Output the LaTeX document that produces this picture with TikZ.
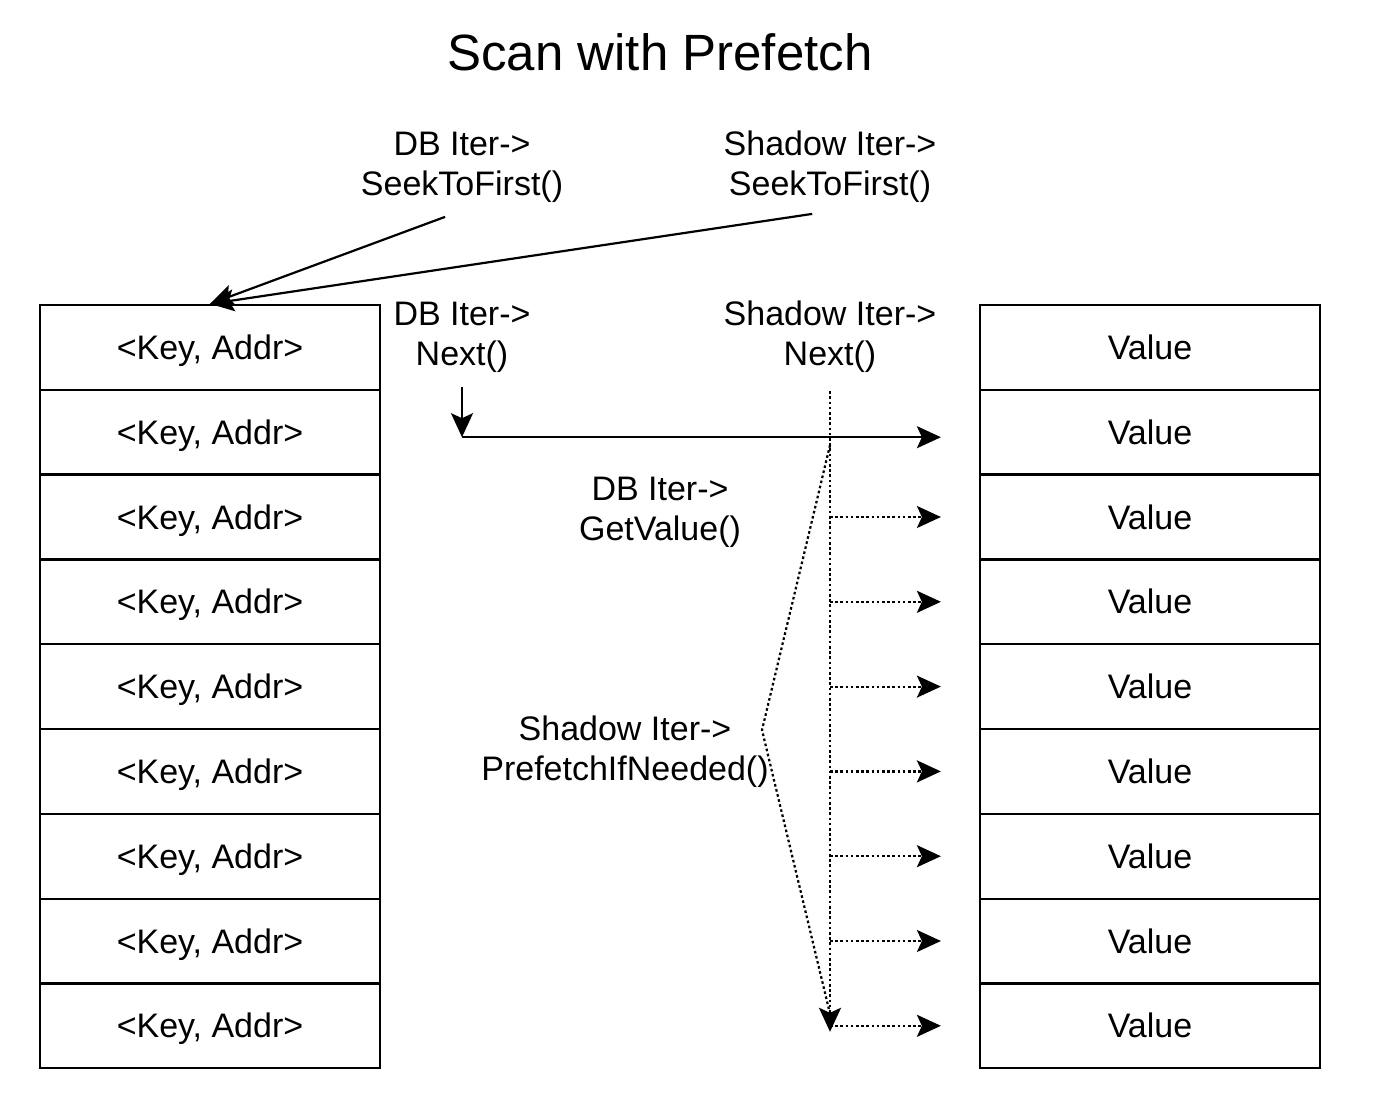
\documentclass[tikz,border=0pt]{standalone}
\usepackage{fontspec}
\setmainfont{Liberation Sans}
\usetikzlibrary{arrows.meta, positioning, calc}

\tikzset{
  cell/.style={draw, line width=1.1pt, minimum width=170pt, minimum height=42.4pt, inner sep=0pt, text height=12pt, text depth=0pt, font=\fontsize{17}{20}\selectfont},
  lbl/.style={align=center, inner sep=4pt, font=\fontsize{17}{20}\selectfont},
  arr/.style={line width=1.1pt, -{Stealth[length=12pt,width=11pt,inset=2.5pt]}},
  dotline/.style={line width=1.1pt, dash pattern=on 1.3pt off 1.3pt},
  dotarr/.style={dotline, -{Stealth[length=12pt,width=11pt,inset=2.5pt,sep=0pt]}},
}

\begin{document}
\begin{tikzpicture}[x=0.5pt, y=-0.5pt]
  \useasboundingbox (0,0) rectangle (1376,1112);
  % Title
  \node[font=\fontsize{25.5}{30}\selectfont] (title) at (660,52) {Scan with Prefetch};

  % --- Key column and value column ---
  \foreach \i in {1,...,9} {
    \node[cell] (k\i) at (210,{305+84.8*(\i-0.5)}) {<Key, Addr>};
    \node[cell] (v\i) at (1150,{305+84.8*(\i-0.5)}) {Value};
  }

  % --- Labels ---
  \node[lbl] (dbseek) at (462,167) {DB Iter->\\SeekToFirst()};
  \node[lbl] (shseek) at (830,167) {Shadow Iter->\\SeekToFirst()};
  \node[lbl] (dbnext) at (462,337) {DB Iter->\\Next()};
  \node[lbl] (shnext) at (830,337) {Shadow Iter->\\Next()};
  \node[lbl] (dbget) at (660,512) {DB Iter->\\GetValue()};
  \node[lbl] (shpre) at (625,752) {Shadow Iter->\\PrefetchIfNeeded()};

  % SeekToFirst
  \draw[arr, shorten <=9pt] (dbseek.south) -- (k1.north);
  \draw[arr, shorten <=9pt] (shseek.south) -- (k1.north);

  % DB Next + GetValue
  \coordinate (dbhit) at ($(dbnext.south |- v2.west)+(0,5)$);
  \draw[arr, shorten <=3pt] (dbnext.south) -- (dbhit);
  \draw[arr] (dbhit) -- ([xshift=-19pt,yshift=-2.5pt]v2.west);

  % Shadow Next + prefetch
  \draw[dotline, shorten <=5pt] (shnext.south) -- (shnext.south |- v9.west);
  \foreach \i in {3,...,9}
    \draw[dotarr] (shnext.south |- v\i.west) -- ([xshift=-19pt]v\i.west);
  \coordinate (pftop) at ($(shnext.south |- v2.west)+(0,13)$);
  \coordinate (pfbend) at (762,730);
  \coordinate (pfend) at ($(shnext.south |- v9.west)+(0,6)$);
  \draw[dotarr] (pftop) -- (pfbend) -- ($(pfend)+(0,-18)$) -- (pfend);
\end{tikzpicture}
\end{document}
